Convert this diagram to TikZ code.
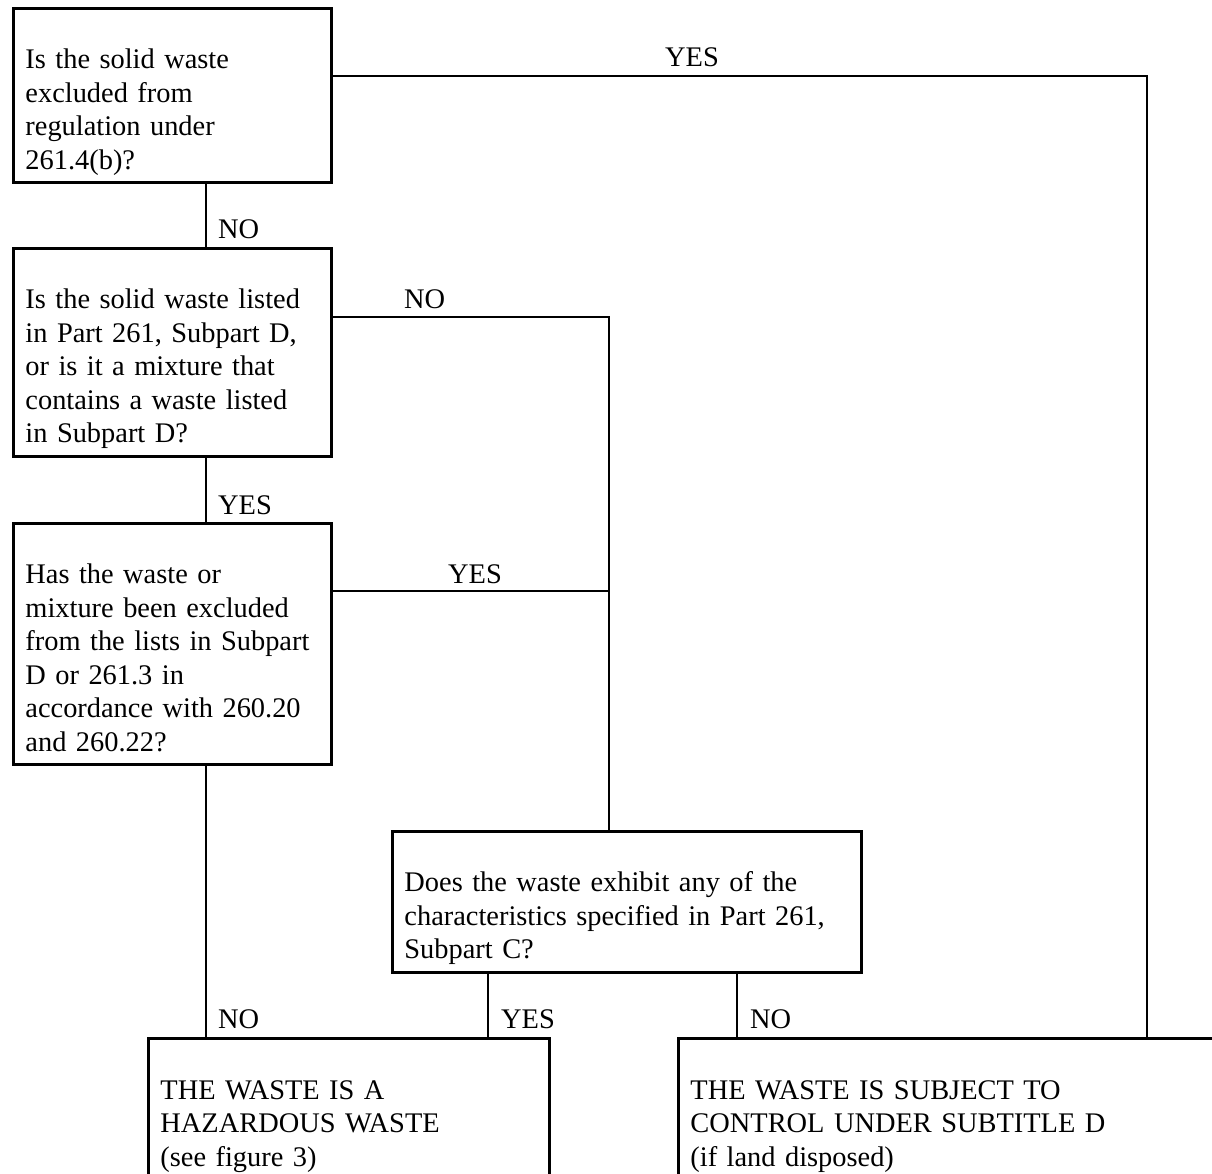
\documentclass[tikz,border=0pt]{standalone}
\usepackage{fontspec}
\setmainfont{Liberation Serif}
\usetikzlibrary{positioning,calc}

\begin{document}
\begin{tikzpicture}[x=1pt, y=-1pt,
  qbox/.style={draw, line width=2.9pt, anchor=north west, inner xsep=12pt, align=left, font=\fontsize{28.4}{33.5}\selectfont},
  tag/.style={anchor=base west, inner sep=0pt, font=\fontsize{28.4}{33.5}\selectfont},
  wire/.style={line width=2.9pt}]
\useasboundingbox (0,0) rectangle (1212,1174);
\node[qbox, text width=294pt, minimum height=170pt] (q1) at (12,7) {\strut\\Is the solid waste\\excluded from\\regulation under\\261.4(b)?\strut};
\node[qbox, text width=294pt, minimum height=205pt] (q2) at (12,247) {\strut\\Is the solid waste listed\\in Part 261, Subpart D,\\or is it a mixture that\\contains a waste listed\\in Subpart D?\strut};
\node[qbox, text width=294pt, minimum height=238pt] (q3) at (12,522) {\strut\\Has the waste or\\mixture been excluded\\from the lists in Subpart\\D or 261.3 in\\accordance with 260.20\\and 260.22?\strut};
\node[qbox, text width=445pt, minimum height=137pt] (q4) at (391,830) {\strut\\Does the waste exhibit any of the\\characteristics specified in Part 261,\\Subpart C?\strut};
\node[qbox, text width=377pt, minimum height=142pt] (haz) at (147,1037) {\strut\\THE WASTE IS A\\HAZARDOUS WASTE\\(see figure 3)\strut};
\node[qbox, text width=556pt, minimum height=142pt] (subd) at (677,1037) {\strut\\THE WASTE IS SUBJECT TO\\CONTROL UNDER SUBTITLE D\\(if land disposed)\strut};
\coordinate (spine) at (206,0);
\coordinate (r1) at (1147,76);
\coordinate (j1) at (609,317);
\coordinate (j2) at (609,591);
\coordinate (dy) at (488,0);
\coordinate (dn) at (737,0);
\draw[wire] (q1.east |- r1) -- (r1) -- (r1 |- subd.north);
\draw[wire] (q1.south -| spine) -- (q2.north -| spine);
\draw[wire] (q2.east |- j1) -- (j1) -- (j1 |- q4.north);
\draw[wire] (q2.south -| spine) -- (q3.north -| spine);
\draw[wire] (q3.east |- j2) -- (j2);
\draw[wire] (q3.south -| spine) -- (haz.north -| spine);
\draw[wire] (q4.south -| dy) -- (haz.north -| dy);
\draw[wire] (q4.south -| dn) -- (subd.north -| dn);
\node[tag] (yes1) at (665,67) {YES};
\node[tag] (no1) at (218,239) {NO};
\node[tag] (no2) at (404,308) {NO};
\node[tag] (yes2) at (218,514) {YES};
\node[tag] (yes3) at (448,583) {YES};
\node[tag] (no3) at (218,1028) {NO};
\node[tag] (yes4) at (501,1028) {YES};
\node[tag] (no4) at (750,1028) {NO};
\end{tikzpicture}
\end{document}
